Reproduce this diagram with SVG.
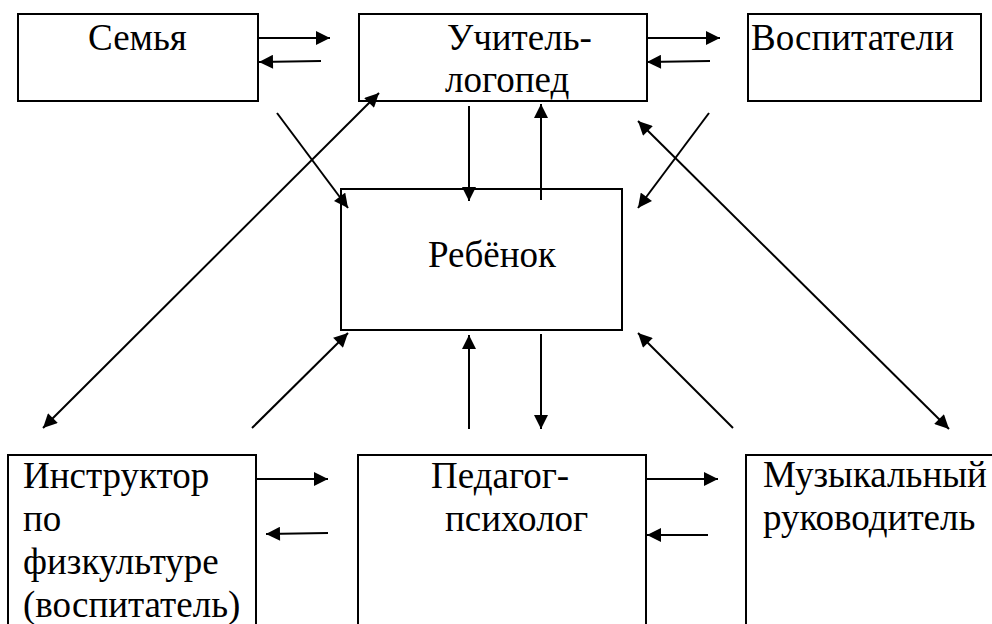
<svg xmlns="http://www.w3.org/2000/svg" width="992" height="624" viewBox="0 0 992 624">
<defs>
<marker id="ah" viewBox="0 0 10 10" refX="10" refY="5" markerWidth="15" markerHeight="14" markerUnits="userSpaceOnUse" orient="auto-start-reverse">
<path d="M0,0 L10,5 L0,10 Z" fill="#000"/>
</marker>
</defs>
<rect width="992" height="624" fill="#fff"/>
<g id="connectors" stroke="#000" stroke-width="2">
<line x1="258" y1="38" x2="330" y2="38" marker-end="url(#ah)"/>
<line x1="321" y1="61" x2="259" y2="62" marker-end="url(#ah)"/>
<line x1="647" y1="38" x2="720" y2="38" marker-end="url(#ah)"/>
<line x1="710" y1="61" x2="647" y2="62" marker-end="url(#ah)"/>
<line x1="469" y1="106" x2="469" y2="201" marker-end="url(#ah)"/>
<line x1="541" y1="200" x2="541" y2="104" marker-end="url(#ah)"/>
<line x1="277" y1="113" x2="348" y2="208" marker-end="url(#ah)"/>
<line x1="709" y1="113" x2="638" y2="208" marker-end="url(#ah)"/>
<line x1="379" y1="93" x2="43" y2="428" marker-start="url(#ah)" marker-end="url(#ah)"/>
<line x1="638" y1="121" x2="949" y2="429" marker-start="url(#ah)" marker-end="url(#ah)"/>
<line x1="252" y1="428" x2="348" y2="333" marker-end="url(#ah)"/>
<line x1="469" y1="429" x2="469" y2="335" marker-end="url(#ah)"/>
<line x1="541" y1="334" x2="541" y2="429" marker-end="url(#ah)"/>
<line x1="733" y1="428" x2="638" y2="333" marker-end="url(#ah)"/>
<line x1="256" y1="479" x2="328" y2="479" marker-end="url(#ah)"/>
<line x1="328" y1="533" x2="266" y2="534" marker-end="url(#ah)"/>
<line x1="646" y1="479" x2="718" y2="479" marker-end="url(#ah)"/>
<line x1="708" y1="535" x2="647" y2="535" marker-end="url(#ah)"/>
</g>
<g id="semya"><rect fill="none" stroke="#000" stroke-width="2" x="18" y="14" width="240" height="87"/><text font-family="Liberation Serif" font-size="37" x="88" y="50">Семья</text></g>
<g id="logoped"><rect fill="none" stroke="#000" stroke-width="2" x="359" y="14" width="288" height="87"/><text font-family="Liberation Serif" font-size="37" x="447" y="50">Учитель-</text><text font-family="Liberation Serif" font-size="37" x="445" y="92">логопед</text></g>
<g id="vospitateli"><rect fill="none" stroke="#000" stroke-width="2" x="748" y="14" width="233" height="87"/><text font-family="Liberation Serif" font-size="37" x="751" y="50">Воспитатели</text></g>
<g id="rebenok"><rect fill="none" stroke="#000" stroke-width="2" x="341" y="189" width="281" height="141"/><text font-family="Liberation Serif" font-size="37" x="428" y="267">Ребёнок</text></g>
<g id="instruktor"><rect fill="none" stroke="#000" stroke-width="2" x="8" y="455" width="248" height="180"/><text font-family="Liberation Serif" font-size="37" x="23" y="488">Инструктор</text><text font-family="Liberation Serif" font-size="37" x="23" y="531">по</text><text font-family="Liberation Serif" font-size="37" x="23" y="574">физкультуре</text><text font-family="Liberation Serif" font-size="37" x="23" y="617">(воспитатель)</text></g>
<g id="psiholog"><rect fill="none" stroke="#000" stroke-width="2" x="358" y="455" width="288" height="180"/><text font-family="Liberation Serif" font-size="37" x="431" y="488">Педагог-</text><text font-family="Liberation Serif" font-size="37" x="445" y="531">психолог</text></g>
<g id="muzruk"><rect fill="none" stroke="#000" stroke-width="2" x="746" y="455" width="260" height="180"/><text font-family="Liberation Serif" font-size="37" x="763" y="487">Музыкальный</text><text font-family="Liberation Serif" font-size="37" x="763" y="530">руководитель</text></g>
</svg>
